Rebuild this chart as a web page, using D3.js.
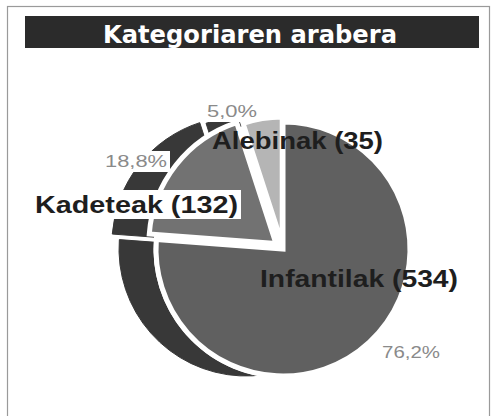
<!DOCTYPE html>
<html>
<head>
<meta charset="utf-8">
<script src="https://cdn.jsdelivr.net/npm/d3@7/dist/d3.min.js"></script>
<style>
  html, body { margin: 0; padding: 0; background: #fff; }
  svg { display: block; }
</style>
</head>
<body>
<div id="chart"></div>
<script>
(function () {
    'use strict';

    // data
    var title = "Kategoriaren arabera";
    var categories = ["Infantilak", "Kadeteak", "Alebinak"];
    var counts = [534, 132, 35];
    var percentLabels = ["76,2%", "18,8%", "5,0%"];

    var width = 491, height = 416;
    var cx = 283, cy = 249, radius = 127;
    var depth = 37;                 // leftward extrusion of the dark side
    var explode = [0, 9, 5];        // how far each slice is pulled out
    var fills = ["#606060", "#727272", "#b5b5b5"];

    // label placement (centre x, baseline y, stretched width)
    var nameLayout = [
        { x: 359, y: 287, w: 198 },
        { x: 136.5, y: 213, w: 203 },
        { x: 297.5, y: 149, w: 171 }
    ];
    var pctLayout = [
        { x: 411, y: 358, w: 58 },
        { x: 136, y: 167, w: 62 },
        { x: 232, y: 117, w: 50 }
    ];

    var svg = d3.select("#chart").append("svg")
        .attr("width", width)
        .attr("height", height);

    // frame
    svg.append("rect")
        .attr("x", 7.5).attr("y", 6.5)
        .attr("width", 482).attr("height", 430)
        .attr("fill", "#fff")
        .attr("stroke", "#9a9a9a")
        .attr("stroke-width", 1.2);

    // title bar
    svg.append("rect")
        .attr("x", 25).attr("y", 16)
        .attr("width", 454).attr("height", 32)
        .attr("fill", "#2b2b2b");
    svg.append("text")
        .attr("x", 250).attr("y", 43)
        .attr("text-anchor", "middle")
        .attr("textLength", 294)
        .attr("lengthAdjust", "spacingAndGlyphs")
        .style("font-family", "'DejaVu Sans', sans-serif")
        .style("font-weight", "bold")
        .style("font-size", "25px")
        .attr("fill", "#fff")
        .text(title);

    var pie = d3.pie().sort(null).value(function (d) { return d; });
    var arcs = pie(counts);
    var arc = d3.arc().innerRadius(0).outerRadius(radius);

    function shift(d, i) {
        var a = (d.startAngle + d.endAngle) / 2;
        return [Math.sin(a) * explode[i], -Math.cos(a) * explode[i]];
    }

    // dark extruded side of the pie
    var side = svg.append("g")
        .attr("transform", "translate(" + (cx - depth) + "," + cy + ")");
    side.selectAll("path")
        .data(arcs).enter()
        .append("path")
        .attr("d", arc)
        .attr("transform", function (d, i) {
            var s = shift(d, i);
            return "translate(" + s[0] + "," + s[1] + ")";
        })
        .attr("fill", "#383838")
        .attr("stroke", "#383838")
        .attr("stroke-width", 1);

    // white boxes behind the percentages
    var pctSize = 17;
    svg.selectAll(".pctbox")
        .data(pctLayout).enter()
        .append("rect")
        .attr("class", "pctbox")
        .attr("x", function (d) { return d.x - d.w / 2 - 3; })
        .attr("y", function (d) { return d.y - pctSize + 1; })
        .attr("width", function (d) { return d.w + 6; })
        .attr("height", pctSize + 4)
        .attr("fill", "#fff");

    // top face
    var face = svg.append("g")
        .attr("transform", "translate(" + cx + "," + cy + ")");
    face.append("circle")
        .attr("r", radius + 2.5)
        .attr("fill", "#fff");
    face.selectAll("path")
        .data(arcs).enter()
        .append("path")
        .attr("d", arc)
        .attr("transform", function (d, i) {
            var s = shift(d, i);
            return "translate(" + s[0] + "," + s[1] + ")";
        })
        .attr("fill", function (d, i) { return fills[i]; })
        .attr("stroke", "#fff")
        .attr("stroke-width", 5)
        .attr("stroke-linejoin", "miter");

    // white box behind the Kadeteak label
    svg.append("rect")
        .attr("x", 30).attr("y", 190)
        .attr("width", 211).attr("height", 29)
        .attr("fill", "#fff");

    // category labels
    svg.selectAll(".name")
        .data(categories).enter()
        .append("text")
        .attr("class", "name")
        .attr("x", function (d, i) { return nameLayout[i].x; })
        .attr("y", function (d, i) { return nameLayout[i].y; })
        .attr("text-anchor", "middle")
        .attr("textLength", function (d, i) { return nameLayout[i].w; })
        .attr("lengthAdjust", "spacingAndGlyphs")
        .style("font-family", "'Liberation Sans', Arial, sans-serif")
        .style("font-weight", "bold")
        .style("font-size", "24px")
        .attr("fill", "#1e1e1e")
        .text(function (d, i) { return d + " (" + counts[i] + ")"; });

    // percentages
    svg.selectAll(".pct")
        .data(percentLabels).enter()
        .append("text")
        .attr("class", "pct")
        .attr("x", function (d, i) { return pctLayout[i].x; })
        .attr("y", function (d, i) { return pctLayout[i].y; })
        .attr("text-anchor", "middle")
        .attr("textLength", function (d, i) { return pctLayout[i].w; })
        .attr("lengthAdjust", "spacingAndGlyphs")
        .style("font-family", "'Liberation Sans', Arial, sans-serif")
        .style("font-size", pctSize + "px")
        .attr("fill", "#8a8a8a")
        .text(function (d) { return d; });
})();
</script>
</body>
</html>
